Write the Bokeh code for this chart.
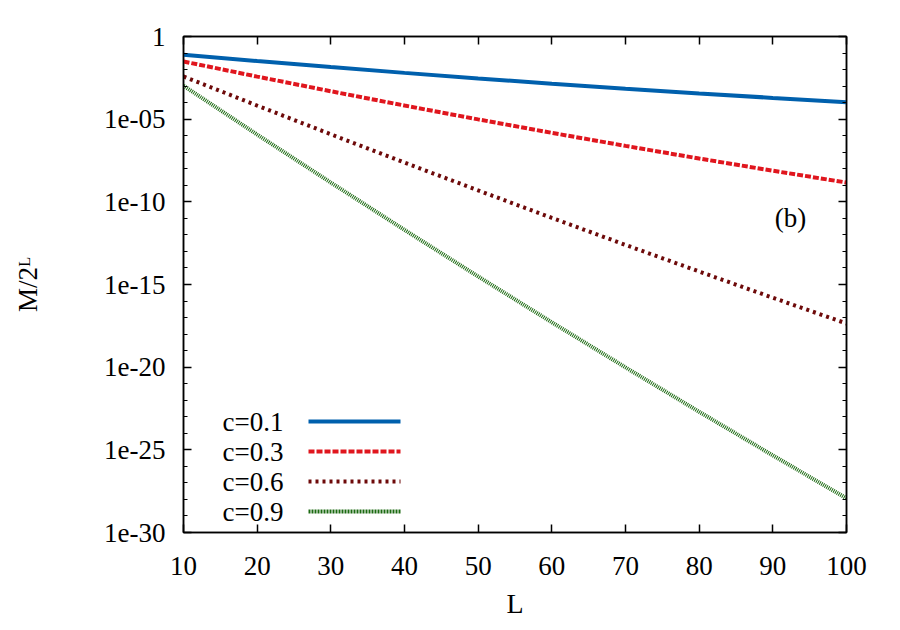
from bokeh.plotting import figure
from bokeh.models import FixedTicker, LinearAxis, LogAxis, Label, Arrow
from bokeh.embed import file_html
from bokeh.resources import INLINE

# ---- data ----
L = [10, 20, 30, 40, 50, 60, 70, 80, 90, 100]
m_c01 = [7.83e-2, 3.27e-2, 1.41e-2, 6.31e-3, 2.92e-3, 1.40e-3, 7.00e-4, 3.61e-4, 1.93e-4, 1.07e-4]
m_c03 = [3.08e-2, 3.76e-3, 4.88e-4, 6.67e-5, 9.68e-6, 1.49e-6, 2.42e-7, 4.17e-8, 7.59e-9, 1.47e-9]
m_c06 = [3.83e-3, 6.64e-5, 1.22e-6, 2.37e-8, 4.90e-10, 1.07e-11, 2.48e-13, 6.10e-15, 1.58e-16, 4.37e-18]
m_c09 = [1.05e-3, 1.17e-6, 1.46e-9, 2.01e-12, 3.06e-15, 5.18e-18, 9.68e-21, 2.00e-23, 4.61e-26, 1.17e-28]
series_names = ["c=0.1", "c=0.3", "c=0.6", "c=0.9"]

x_ticks = [10, 20, 30, 40, 50, 60, 70, 80, 90, 100]
y_ticks = [1e-30, 1e-25, 1e-20, 1e-15, 1e-10, 1e-05, 1.0]
y_tick_labels = ["1e-30", "1e-25", "1e-20", "1e-15", "1e-10", "1e-05", "1"]
y_minor = [10.0 ** (-k) for k in range(1, 30) if k % 5 != 0]

# ---- styles ----
FONT = "Liberation Serif"
colors = ["#0060ad", "#e0161e", "#6e0a0a", "#1c6a12"]
dashes = ["solid", "6 2", "3 4", "1 1"]
legend_dashes = ["solid", "6 2", "3 4", "2 1"]
widths = [4, 4, 4, 4]

p = figure(frame_width=663, frame_height=496, y_axis_type="log",
           x_range=(10, 100), y_range=(1e-30, 1),
           output_backend="svg", toolbar_location=None,
           min_border_left=183, min_border_right=50,
           min_border_top=36, min_border_bottom=94)
p.xgrid.visible = False
p.ygrid.visible = False
p.outline_line_color = "black"
p.outline_line_width = 1.5
p.background_fill_color = "white"
p.border_fill_color = "white"

series = [m_c01, m_c03, m_c06, m_c09]
for ys, col, dsh, w in zip(series, colors, dashes, widths):
    p.line(L, ys, line_color=col, line_dash=dsh, line_width=w)

bottom_ax = p.xaxis[0]
left_ax = p.yaxis[0]

xt = FixedTicker(ticks=x_ticks, minor_ticks=[])
yt = FixedTicker(ticks=y_ticks, minor_ticks=y_minor)
bottom_ax.ticker = xt
left_ax.ticker = yt
left_ax.major_label_overrides = dict(zip(y_ticks, y_tick_labels))

top_ax = LinearAxis(ticker=xt)
right_ax = LogAxis(ticker=yt)
p.add_layout(top_ax, "above")
p.add_layout(right_ax, "right")

for ax in [bottom_ax, left_ax, top_ax, right_ax]:
    ax.axis_line_color = "black"
    ax.axis_line_width = 1.5
    ax.major_tick_in = 8
    ax.major_tick_out = 0
    ax.minor_tick_in = 4
    ax.minor_tick_out = 0
    ax.major_tick_line_color = "black"
    ax.minor_tick_line_color = "black"
    ax.major_tick_line_width = 1.5
    ax.minor_tick_line_width = 1.2
    ax.major_label_text_font = FONT
    ax.major_label_text_font_size = "27px"
    ax.major_label_text_color = "black"

# mirrored axes: ticks only, labels not drawn
for ax in [top_ax, right_ax]:
    ax.major_label_text_font_size = "2px"
    ax.major_label_text_color = None
    ax.major_label_standoff = 0

bottom_ax.major_label_standoff = 24
left_ax.major_label_standoff = 18
bottom_ax.minor_tick_line_color = None
top_ax.minor_tick_line_color = None

bottom_ax.axis_label = "L"
bottom_ax.axis_label_text_font = FONT
bottom_ax.axis_label_text_font_size = "28px"
bottom_ax.axis_label_text_font_style = "normal"
bottom_ax.axis_label_text_color = "black"
bottom_ax.axis_label_standoff = 10

left_ax.axis_label = "M/2\u1d38"
left_ax.axis_label_text_font = FONT
left_ax.axis_label_text_font_size = "27px"
left_ax.axis_label_text_font_style = "normal"
left_ax.axis_label_text_color = "black"
left_ax.axis_label_standoff = 58

# panel tag
p.add_layout(Label(x=607, y=315, x_units="screen", y_units="screen", text="(b)",
                   text_align="center", text_baseline="middle",
                   text_font=FONT, text_font_size="27px", text_color="black"))

# legend (gnuplot style: text, then sample)
row_y = [111, 81, 51, 21]
for name, col, dsh, w, ry in zip(series_names, colors, legend_dashes, widths, row_y):
    p.add_layout(Label(x=100, y=ry, x_units="screen", y_units="screen", text=name,
                       text_align="right", text_baseline="middle",
                       text_font=FONT, text_font_size="27px", text_color="black"))
    p.add_layout(Arrow(end=None, x_start=125, y_start=ry, x_end=217, y_end=ry,
                       start_units="screen", end_units="screen",
                       line_color=col, line_dash=dsh, line_width=w))

open("out.html", "w").write(file_html(p, INLINE))
